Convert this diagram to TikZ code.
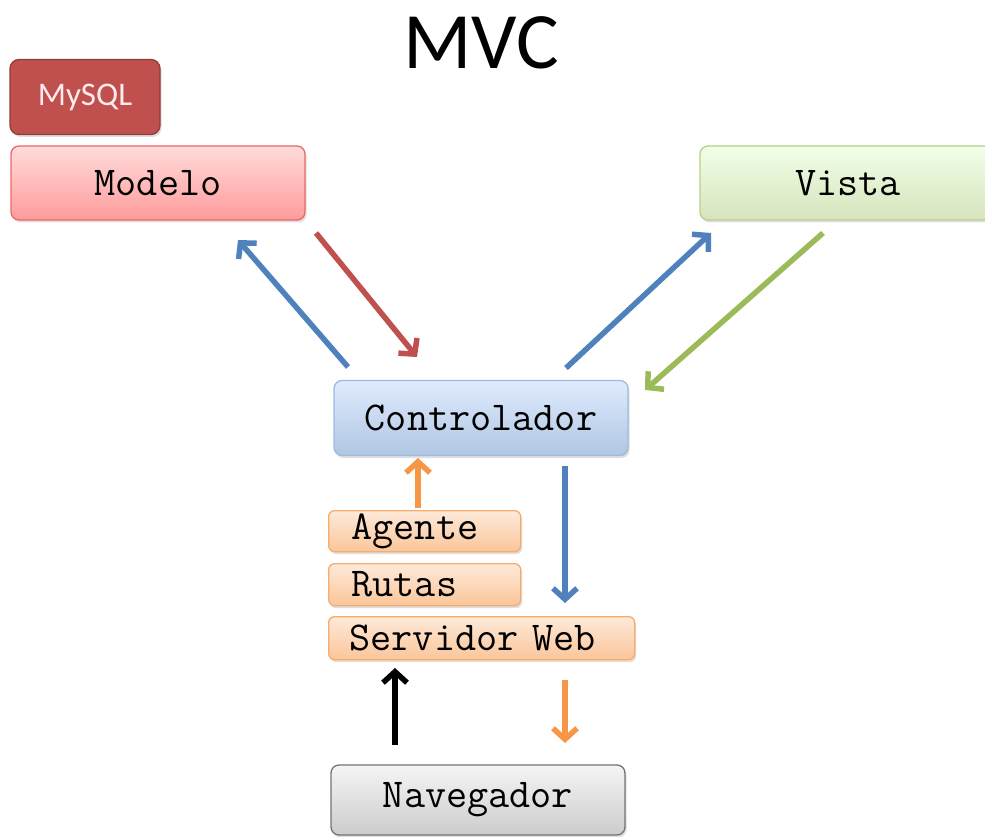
\documentclass[tikz,border=0pt]{standalone}
\usepackage{fontspec}
\newfontfamily\calib{Carlito}
\usetikzlibrary{arrows.meta,shadows}

\definecolor{cblue}{HTML}{4F81BD}
\definecolor{cred}{HTML}{C0504D}
\definecolor{cgreen}{HTML}{9BBB59}
\definecolor{corange}{HTML}{F79646}

\tikzset{
  box/.style={rounded corners=8pt, line width=1.3pt, inner sep=0pt,
    font=\ttfamily\fontsize{41}{41}\selectfont,
    drop shadow={opacity=0.25, shadow xshift=1.5pt, shadow yshift=-2.5pt}},
  redbox/.style={box, draw=red!50!cred!70, top color=red!14!white, bottom color=red!40!white!95!pink},
  greenbox/.style={box, draw=cgreen!70, top color=green!6!white!97!yellow, bottom color=cgreen!40!white},
  bluebox/.style={box, draw=cblue!55, top color=blue!8!white!95!cyan, bottom color=cblue!45!white},
  orangebox/.style={box, draw=corange!80, top color=corange!20!white, bottom color=corange!55!white,
    rounded corners=6pt, align=left},
  graybox/.style={box, draw=black!55, top color=black!4, bottom color=black!20},
  flow/.style={line width=5.5pt, -{Straight Barb[length=11pt,width=24pt]}}
}

\begin{document}
\begin{tikzpicture}[x=1pt,y=-1pt]
\useasboundingbox (0,0) rectangle (985,837);

% title
\node[anchor=base, inner sep=0pt, font=\calib\fontsize{80}{80}\selectfont] (title) at (481,69) {MVC};

% database
\node[box, rounded corners=9pt, draw=cred!75!black, fill=cred, text=white!92!red,
  minimum width=150, minimum height=75, font=\calib\fontsize{33}{33}\selectfont]
  (mysql) at (85,97) {MySQL};

% main boxes
\node[redbox, minimum width=294, minimum height=74] (modelo) at (158,183) {Modelo};
\node[greenbox, minimum width=296, minimum height=74] (vista) at (848,183) {Vista};
\node[bluebox, minimum width=294, minimum height=75] (ctrl) at (481,418) {Controlador};
\node[graybox, minimum width=294, minimum height=70] (nav) at (478,800) {Navegador};

% server stack
\node[orangebox, anchor=north west, minimum width=192, minimum height=41,
  text width=146, inner xsep=23] (agente) at (328,510) {Agente};
\node[orangebox, anchor=north west, minimum width=192, minimum height=42,
  text width=146, inner xsep=23] (rutas) at (328,563) {Rutas};
\node[orangebox, anchor=north west, minimum width=306, minimum height=43,
  text width=264, inner xsep=21] (web) at (328,616) {Servidor Web};

% arrow end points
\coordinate (c2m-a) at (348,367);  \coordinate (c2m-b) at (238,240);
\coordinate (m2c-a) at (316,233);  \coordinate (m2c-b) at (417,357);
\coordinate (c2v-a) at (566,368);  \coordinate (c2v-b) at (711,233);
\coordinate (v2c-a) at (823,233);  \coordinate (v2c-b) at (645,390);
\coordinate (a2c-a) at (418,508);  \coordinate (a2c-b) at (418,458);
\coordinate (c2w-a) at (565,466);  \coordinate (c2w-b) at (565,603);
\coordinate (n2w-a) at (395,745);  \coordinate (n2w-b) at (395,668);
\coordinate (w2n-a) at (565,680);  \coordinate (w2n-b) at (565,743);

\draw[flow, cblue]   (c2m-a) -- (c2m-b);
\draw[flow, cred]    (m2c-a) -- (m2c-b);
\draw[flow, cblue]   (c2v-a) -- (c2v-b);
\draw[flow, cgreen]  (v2c-a) -- (v2c-b);
\draw[flow, corange] (a2c-a) -- (a2c-b);
\draw[flow, cblue]   (c2w-a) -- (c2w-b);
\draw[flow, black]   (n2w-a) -- (n2w-b);
\draw[flow, corange] (w2n-a) -- (w2n-b);
\end{tikzpicture}
\end{document}
